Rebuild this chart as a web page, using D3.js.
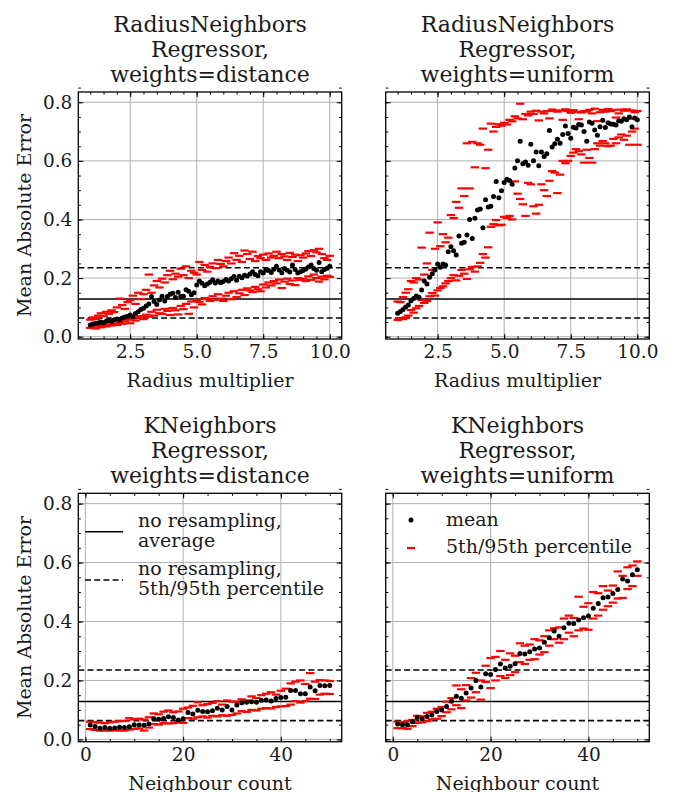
<!DOCTYPE html>
<html><head><meta charset="utf-8">
<script src="https://cdn.jsdelivr.net/npm/d3@7"></script>
<style>html,body{margin:0;padding:0;background:#fff}svg{display:block}svg text{font-family:'DejaVu Serif',serif}</style>
</head><body><svg id="fig" width="675" height="792"></svg>
<script>
// Parameter grids
const radiusMultiplier = d3.range(10, 101).map(v => v / 10);   // 1.0 … 10.0
const neighbourCount = d3.range(1, 51);                          // 1 … 50

// RadiusNeighborsRegressor, weights=distance
const rnDistMean = [
  0.040,0.043,0.045,0.047,0.050,0.048,0.053,0.055,0.052,0.058,
  0.060,0.057,0.064,0.067,0.070,0.074,0.068,0.079,0.085,0.093,
  0.097,0.105,0.112,0.137,0.120,0.110,0.125,0.138,0.122,0.137,
  0.145,0.148,0.134,0.152,0.137,0.138,0.160,0.155,0.143,0.150,
  0.176,0.190,0.182,0.174,0.180,0.186,0.194,0.183,0.190,0.184,
  0.188,0.195,0.190,0.198,0.205,0.193,0.206,0.201,0.210,0.207,
  0.214,0.222,0.212,0.208,0.222,0.217,0.228,0.226,0.219,0.230,
  0.240,0.228,0.218,0.233,0.227,0.221,0.245,0.229,0.217,0.222,
  0.226,0.231,0.238,0.245,0.233,0.227,0.253,0.222,0.229,0.234,
  0.240];
const rnDistP95 = [
  0.058,0.066,0.060,0.072,0.080,0.070,0.085,0.078,0.090,0.084,
  0.100,0.130,0.108,0.095,0.118,0.125,0.140,0.112,0.150,0.128,
  0.145,0.160,0.212,0.150,0.175,0.190,0.168,0.198,0.185,0.210,
  0.225,0.196,0.215,0.205,0.232,0.210,0.240,0.200,0.225,0.218,
  0.212,0.255,0.228,0.245,0.222,0.238,0.250,0.234,0.262,0.248,
  0.240,0.258,0.270,0.250,0.285,0.262,0.276,0.255,0.294,0.282,
  0.265,0.290,0.258,0.275,0.268,0.280,0.262,0.284,0.270,0.276,
  0.290,0.268,0.282,0.274,0.262,0.286,0.272,0.280,0.258,0.278,
  0.270,0.284,0.292,0.275,0.295,0.288,0.300,0.282,0.268,0.262,
  0.276];
const rnDistP5 = [
  0.030,0.034,0.028,0.036,0.032,0.040,0.035,0.042,0.038,0.045,
  0.040,0.048,0.044,0.052,0.058,0.046,0.062,0.055,0.066,0.070,
  0.060,0.075,0.068,0.085,0.072,0.092,0.080,0.078,0.095,0.088,
  0.074,0.098,0.090,0.076,0.105,0.094,0.112,0.078,0.120,0.100,
  0.125,0.118,0.110,0.132,0.128,0.122,0.138,0.126,0.145,0.130,
  0.122,0.140,0.150,0.128,0.155,0.135,0.148,0.160,0.142,0.165,
  0.158,0.152,0.170,0.162,0.155,0.178,0.168,0.185,0.175,0.190,
  0.182,0.195,0.166,0.188,0.198,0.180,0.192,0.176,0.200,0.194,
  0.198,0.190,0.206,0.194,0.212,0.200,0.188,0.205,0.196,0.208,
  0.204];

// RadiusNeighborsRegressor, weights=uniform
const rnUnifMean = [
  0.080,0.086,0.093,0.101,0.108,0.123,0.130,0.139,0.135,0.159,
  0.190,0.180,0.203,0.215,0.228,0.248,0.237,0.248,0.245,0.290,
  0.307,0.293,0.279,0.344,0.319,0.322,0.347,0.400,0.335,0.404,
  0.432,0.436,0.372,0.467,0.443,0.445,0.478,0.530,0.474,0.498,
  0.526,0.537,0.533,0.520,0.576,0.600,0.667,0.590,0.596,0.585,
  0.657,0.600,0.630,0.583,0.630,0.615,0.624,0.704,0.647,0.658,
  0.674,0.660,0.690,0.719,0.693,0.677,0.715,0.712,0.724,0.722,
  0.700,0.667,0.733,0.728,0.705,0.687,0.716,0.739,0.714,0.730,
  0.726,0.725,0.722,0.737,0.735,0.744,0.740,0.750,0.716,0.746,
  0.740];
const rnUnifP95 = [
  0.120,0.118,0.135,0.150,0.162,0.190,0.185,0.200,0.195,0.304,
  0.212,0.250,0.355,0.228,0.300,0.390,0.309,0.350,0.322,0.338,
  0.415,0.405,0.460,0.440,0.506,0.480,0.660,0.506,0.665,0.578,
  0.660,0.655,0.710,0.575,0.638,0.727,0.700,0.716,0.725,0.720,
  0.730,0.724,0.740,0.735,0.752,0.745,0.795,0.742,0.760,0.755,
  0.768,0.760,0.771,0.738,0.768,0.762,0.770,0.745,0.775,0.770,
  0.768,0.772,0.740,0.776,0.770,0.764,0.773,0.767,0.742,0.765,
  0.770,0.768,0.774,0.762,0.778,0.736,0.766,0.774,0.768,0.777,
  0.770,0.774,0.748,0.762,0.775,0.771,0.776,0.744,0.772,0.766,
  0.770];
const rnUnifP5 = [
  0.057,0.063,0.060,0.066,0.072,0.091,0.082,0.097,0.105,0.125,
  0.115,0.122,0.138,0.149,0.140,0.158,0.166,0.172,0.182,0.190,
  0.200,0.210,0.192,0.208,0.228,0.215,0.197,0.230,0.238,0.222,
  0.240,0.252,0.282,0.270,0.305,0.375,0.384,0.398,0.380,0.382,
  0.409,0.405,0.412,0.400,0.530,0.488,0.470,0.452,0.412,0.525,
  0.520,0.445,0.420,0.450,0.520,0.500,0.480,0.532,0.565,0.560,
  0.490,0.553,0.600,0.592,0.600,0.617,0.628,0.640,0.633,0.622,
  0.594,0.638,0.610,0.594,0.640,0.660,0.652,0.668,0.660,0.650,
  0.652,0.675,0.660,0.680,0.690,0.672,0.686,0.655,0.700,0.710,
  0.655];

// KNeighborsRegressor, weights=distance
const knDistMean = [
  0.049,0.044,0.038,0.040,0.038,0.039,0.041,0.040,0.043,0.050,
  0.049,0.048,0.052,0.070,0.068,0.071,0.077,0.074,0.066,0.070,
  0.091,0.086,0.099,0.095,0.094,0.097,0.106,0.100,0.112,0.100,
  0.117,0.124,0.126,0.128,0.126,0.133,0.134,0.130,0.139,0.142,
  0.143,0.166,0.166,0.155,0.155,0.178,0.165,0.183,0.182,0.183];
const knDistP95 = [
  0.060,0.058,0.057,0.055,0.058,0.060,0.062,0.063,0.072,0.068,
  0.070,0.067,0.075,0.088,0.085,0.094,0.098,0.092,0.095,0.104,
  0.108,0.114,0.126,0.116,0.120,0.124,0.130,0.118,0.132,0.128,
  0.128,0.136,0.132,0.146,0.140,0.150,0.155,0.160,0.152,0.165,
  0.172,0.190,0.196,0.200,0.188,0.225,0.196,0.201,0.200,0.198];
const knDistP5 = [
  0.035,0.032,0.030,0.030,0.030,0.031,0.030,0.030,0.033,0.036,
  0.037,0.030,0.040,0.052,0.050,0.055,0.054,0.055,0.058,0.056,
  0.072,0.070,0.075,0.078,0.074,0.080,0.078,0.082,0.080,0.083,
  0.088,0.096,0.093,0.100,0.098,0.104,0.106,0.105,0.110,0.112,
  0.113,0.118,0.130,0.125,0.130,0.138,0.137,0.152,0.155,0.154];

// KNeighborsRegressor, weights=uniform
const knUnifMean = [
  0.052,0.050,0.050,0.060,0.074,0.070,0.078,0.083,0.095,0.100,
  0.112,0.129,0.146,0.140,0.157,0.174,0.200,0.178,0.223,0.220,
  0.237,0.256,0.242,0.248,0.257,0.291,0.290,0.297,0.307,0.310,
  0.330,0.345,0.368,0.350,0.379,0.394,0.393,0.405,0.413,0.419,
  0.445,0.461,0.481,0.483,0.495,0.509,0.544,0.537,0.559,0.576];
const knUnifP95 = [
  0.060,0.058,0.062,0.066,0.080,0.078,0.090,0.094,0.104,0.110,
  0.128,0.140,0.183,0.170,0.184,0.208,0.226,0.200,0.250,0.276,
  0.280,0.300,0.270,0.292,0.284,0.326,0.318,0.322,0.340,0.336,
  0.350,0.370,0.377,0.380,0.410,0.420,0.412,0.484,0.450,0.462,
  0.500,0.496,0.520,0.505,0.522,0.570,0.555,0.584,0.590,0.604];
const knUnifP5 = [
  0.038,0.038,0.036,0.045,0.056,0.058,0.062,0.068,0.070,0.079,
  0.092,0.102,0.116,0.106,0.132,0.142,0.160,0.135,0.195,0.174,
  0.200,0.215,0.208,0.218,0.228,0.262,0.256,0.270,0.272,0.288,
  0.296,0.318,0.340,0.328,0.340,0.362,0.350,0.370,0.376,0.372,
  0.410,0.420,0.440,0.452,0.464,0.478,0.480,0.510,0.520,0.555];

// Reference levels without resampling
const noResampleMean = 0.1285;
const noResampleP5 = 0.0638;
const noResampleP95 = 0.2355;

const yTicks = [0.0, 0.2, 0.4, 0.6, 0.8];
const radiusTicks = [2.5, 5.0, 7.5, 10.0];
const countTicks = [0, 20, 40];

const titles = [
  ["RadiusNeighbors", "Regressor,", "weights=distance"],
  ["RadiusNeighbors", "Regressor,", "weights=uniform"],
  ["KNeighbors", "Regressor,", "weights=distance"],
  ["KNeighbors", "Regressor,", "weights=uniform"]
];

const FONT = "DejaVu Serif";
const TICK_FS = 18.5, LABEL_FS = 19, TITLE_FS = 22, LEGEND_FS = 19;
const GRID = "#b0b0b0";
const RED = "#ff0000";
const INK = "#1a1a1a";

const svg = d3.select("#fig");

const cols = [{l: 78.3, r: 341.7}, {l: 385.7, r: 649.3}];
const rows = [{t: 92, b: 339}, {t: 493.3, b: 741.7}];

const panels = [
  {title: titles[0], x: radiusMultiplier, mean: rnDistMean, lo: rnDistP5, hi: rnDistP95,
   xlabel: "Radius multiplier", xdom: [0.55, 10.45], xt: radiusTicks, xfmt: d3.format(".1f"),
   xminor: d3.range(1, 10.01, 0.5), col: 0, row: 0},
  {title: titles[1], x: radiusMultiplier, mean: rnUnifMean, lo: rnUnifP5, hi: rnUnifP95,
   xlabel: "Radius multiplier", xdom: [0.55, 10.45], xt: radiusTicks, xfmt: d3.format(".1f"),
   xminor: d3.range(1, 10.01, 0.5), col: 1, row: 0},
  {title: titles[2], x: neighbourCount, mean: knDistMean, lo: knDistP5, hi: knDistP95,
   xlabel: "Neighbour count", xdom: [-1.45, 52.45], xt: countTicks, xfmt: d3.format("d"),
   xminor: d3.range(0, 51, 5), col: 0, row: 1, legend: "lines"},
  {title: titles[3], x: neighbourCount, mean: knUnifMean, lo: knUnifP5, hi: knUnifP95,
   xlabel: "Neighbour count", xdom: [-1.45, 52.45], xt: countTicks, xfmt: d3.format("d"),
   xminor: d3.range(0, 51, 5), col: 1, row: 1, legend: "markers"}
];

const yDom = [-0.00785, 0.835];
const yMinor = d3.range(0, 0.851, 0.05);

const txt = (sel, size) => sel.attr("font-family", FONT).attr("font-size", size).attr("fill", INK);

panels.forEach(p => {
  const c = cols[p.col], r = rows[p.row];
  const x = d3.scaleLinear().domain(p.xdom).range([c.l, c.r]);
  const y = d3.scaleLinear().domain(yDom).range([r.b, r.t]);
  const g = svg.append("g");

  // grid
  g.append("g").selectAll("line").data(p.xt).join("line")
    .attr("x1", d => x(d)).attr("x2", d => x(d)).attr("y1", r.t).attr("y2", r.b)
    .attr("stroke", GRID).attr("stroke-width", 1);
  g.append("g").selectAll("line").data(yTicks).join("line")
    .attr("x1", c.l).attr("x2", c.r).attr("y1", d => y(d)).attr("y2", d => y(d))
    .attr("stroke", GRID).attr("stroke-width", 1);

  // reference levels
  [[noResampleMean, null], [noResampleP5, "6,3.2"], [noResampleP95, "6,3.2"]].forEach(([v, dash]) => {
    g.append("line").attr("x1", c.l).attr("x2", c.r).attr("y1", y(v)).attr("y2", y(v))
      .attr("stroke", "#000").attr("stroke-width", 1.6)
      .attr("stroke-dasharray", dash);
  });

  // percentile markers
  const pts = p.x.map((xv, i) => ({x: xv, m: p.mean[i], lo: p.lo[i], hi: p.hi[i]}));
  const bands = g.append("g");
  ["lo", "hi"].forEach(k => {
    bands.selectAll("line." + k).data(pts).join("line").attr("class", k)
      .attr("x1", d => x(d.x) - 4.2).attr("x2", d => x(d.x) + 4.2)
      .attr("y1", d => y(d[k])).attr("y2", d => y(d[k]))
      .attr("stroke", RED).attr("stroke-width", 2.2);
  });
  // mean markers
  g.append("g").selectAll("circle").data(pts).join("circle")
    .attr("cx", d => x(d.x)).attr("cy", d => y(d.m)).attr("r", 2.5).attr("fill", "#000");

  // ticks (inward, all four sides)
  const major = 5, minor = 2.6;
  const addAxis = (axis, tx, ty) => {
    const a = g.append("g").attr("transform", `translate(${tx},${ty})`).call(axis)
      .attr("font-family", FONT);
    a.select(".domain").remove();
    a.selectAll("line").attr("stroke", "#000").attr("stroke-width", 1);
    txt(a.selectAll("text"), TICK_FS);
    return a;
  };
  addAxis(d3.axisBottom(x).tickValues(p.xt).tickFormat(p.xfmt).tickSize(-major).tickPadding(6), 0, r.b);
  addAxis(d3.axisBottom(x).tickValues(p.xminor).tickFormat("").tickSize(-minor), 0, r.b);
  addAxis(d3.axisTop(x).tickValues(p.xt).tickFormat("").tickSize(-major), 0, r.t);
  addAxis(d3.axisTop(x).tickValues(p.xminor).tickFormat("").tickSize(-minor), 0, r.t);
  addAxis(d3.axisLeft(y).tickValues(yTicks).tickFormat(p.col === 0 ? d3.format(".1f") : "")
    .tickSize(-major).tickPadding(6), c.l, 0);
  addAxis(d3.axisLeft(y).tickValues(yMinor).tickFormat("").tickSize(-minor), c.l, 0);
  addAxis(d3.axisRight(y).tickValues(yTicks).tickFormat("").tickSize(-major), c.r, 0);
  addAxis(d3.axisRight(y).tickValues(yMinor).tickFormat("").tickSize(-minor), c.r, 0);

  // frame
  g.append("rect").attr("x", c.l).attr("y", r.t).attr("width", c.r - c.l).attr("height", r.b - r.t)
    .attr("fill", "none").attr("stroke", "#000").attr("stroke-width", 1.3);

  // title
  const cx = (c.l + c.r) / 2;
  txt(g.append("text"), TITLE_FS).attr("x", cx).attr("y", r.t - 60).attr("text-anchor", "middle")
    .selectAll("tspan").data(p.title).join("tspan")
    .attr("x", cx).attr("dy", (d, i) => i === 0 ? 0 : 25).text(d => d);

  // x label
  txt(g.append("text"), LABEL_FS).attr("x", cx).attr("y", r.b + 48).attr("text-anchor", "middle")
    .text(p.xlabel);

  // y label
  if (p.col === 0) {
    const cy = (r.t + r.b) / 2;
    txt(g.append("text"), LABEL_FS).attr("transform", `translate(31,${cy}) rotate(-90)`)
      .attr("text-anchor", "middle").text("Mean Absolute Error");
  }

  // legends
  if (p.legend === "lines") {
    const items = [
      {dash: null, lines: ["no resampling,", "average"], y: 531.7},
      {dash: "6,3.2", lines: ["no resampling,", "5th/95th percentile"], y: 580}
    ];
    items.forEach(it => {
      g.append("line").attr("x1", 85).attr("x2", 123).attr("y1", it.y).attr("y2", it.y)
        .attr("stroke", "#000").attr("stroke-width", 1.6).attr("stroke-dasharray", it.dash);
      txt(g.append("text"), LEGEND_FS)
        .selectAll("tspan").data(it.lines).join("tspan")
        .attr("x", 138).attr("y", (d, i) => it.y - 5 + i * 20).text(d => d);
    });
  } else if (p.legend === "markers") {
    g.append("circle").attr("cx", 411).attr("cy", 520).attr("r", 2.5).attr("fill", "#000");
    txt(g.append("text"), LEGEND_FS).attr("x", 446).attr("y", 526).text("mean");
    g.append("line").attr("x1", 407).attr("x2", 415).attr("y1", 548).attr("y2", 548)
      .attr("stroke", RED).attr("stroke-width", 2.2);
    txt(g.append("text"), LEGEND_FS).attr("x", 446).attr("y", 553).text("5th/95th percentile");
  }
});
</script></body></html>
